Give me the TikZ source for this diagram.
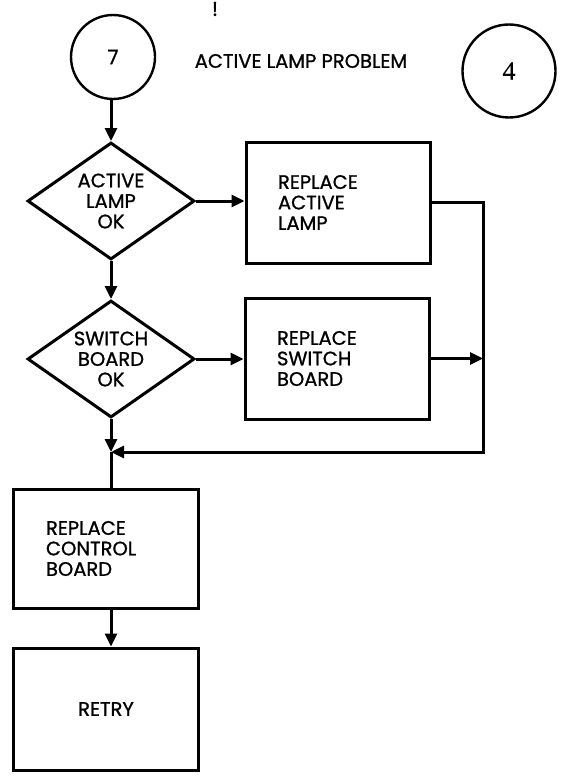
\documentclass[tikz,border=0pt]{standalone}
\usepackage{fontspec}
\setmainfont{Poppins}[FakeBold=1]
\newfontfamily\numserif{Liberation Serif}[FakeBold=0.5]
\usetikzlibrary{shapes.geometric,arrows.meta}
\begin{document}
\begin{tikzpicture}[x=1pt,y=-1pt,
  every node/.style={font=\fontsize{19.5}{20.5}\selectfont},
  thick line/.style={line width=3pt},
  arr/.style={line width=3pt,-{Triangle[length=13pt,width=12pt]}},
  box/.style={draw,line width=3pt,rectangle,minimum width=184pt,minimum height=121pt,text width=120pt,align=left,inner sep=0pt},
  dec/.style={draw,line width=3pt,diamond,aspect=1.43,minimum width=167pt,minimum height=117pt,inner sep=0pt,align=center},
  conn/.style={draw,line width=2.4pt,circle,inner sep=0pt}]
\useasboundingbox (0,0) rectangle (565,781);
\node (mark) at (215,9) {\fontsize{20}{20}\selectfont !};
\node[conn,minimum size=84pt] (c7) at (113,57) {\fontsize{20}{20}\selectfont 7};
\node (title) at (301,61) {ACTIVE LAMP PROBLEM};
\node[conn,minimum size=93pt] (c4) at (509,71) {\numserif\fontsize{26}{26}\selectfont 4};
\node[dec] (d1) at (111,201) {ACTIVE\\LAMP\\OK};
\node[box] (b1) at (338,202.5) {REPLACE\\ACTIVE\\LAMP};
\node[dec] (d2) at (111,359) {SWITCH\\BOARD\\OK};
\node[box] (b2) at (337,358.5) {REPLACE\\SWITCH\\BOARD};
\coordinate (j) at (111,452);
\coordinate (r) at (483,452);
\node[box,minimum width=185pt,minimum height=119pt] (b3) at (106,548.5) {REPLACE\\CONTROL\\BOARD};
\node[box,minimum width=185pt,minimum height=122pt,text width=185pt,align=center] (b4) at (106,709) {RETRY};
\draw[arr] (c7.south -| d1.north) -- (d1.north);
\draw[arr] (d1.east) -- (b1.west |- d1.east);
\draw[arr] (d1.south) -- (d2.north);
\draw[arr] (d2.east) -- (b2.west |- d2.east);
\draw[arr] (b1.east) -| (r) -- (j);
\draw[arr] (b2.east) -- (b2.east -| r);
\draw[arr] (d2.south) -- (j);
\draw[thick line] (j) -- (j |- b3.north);
\draw[arr] (b3.south -| j) -- (b4.north -| j);
\end{tikzpicture}
\end{document}
